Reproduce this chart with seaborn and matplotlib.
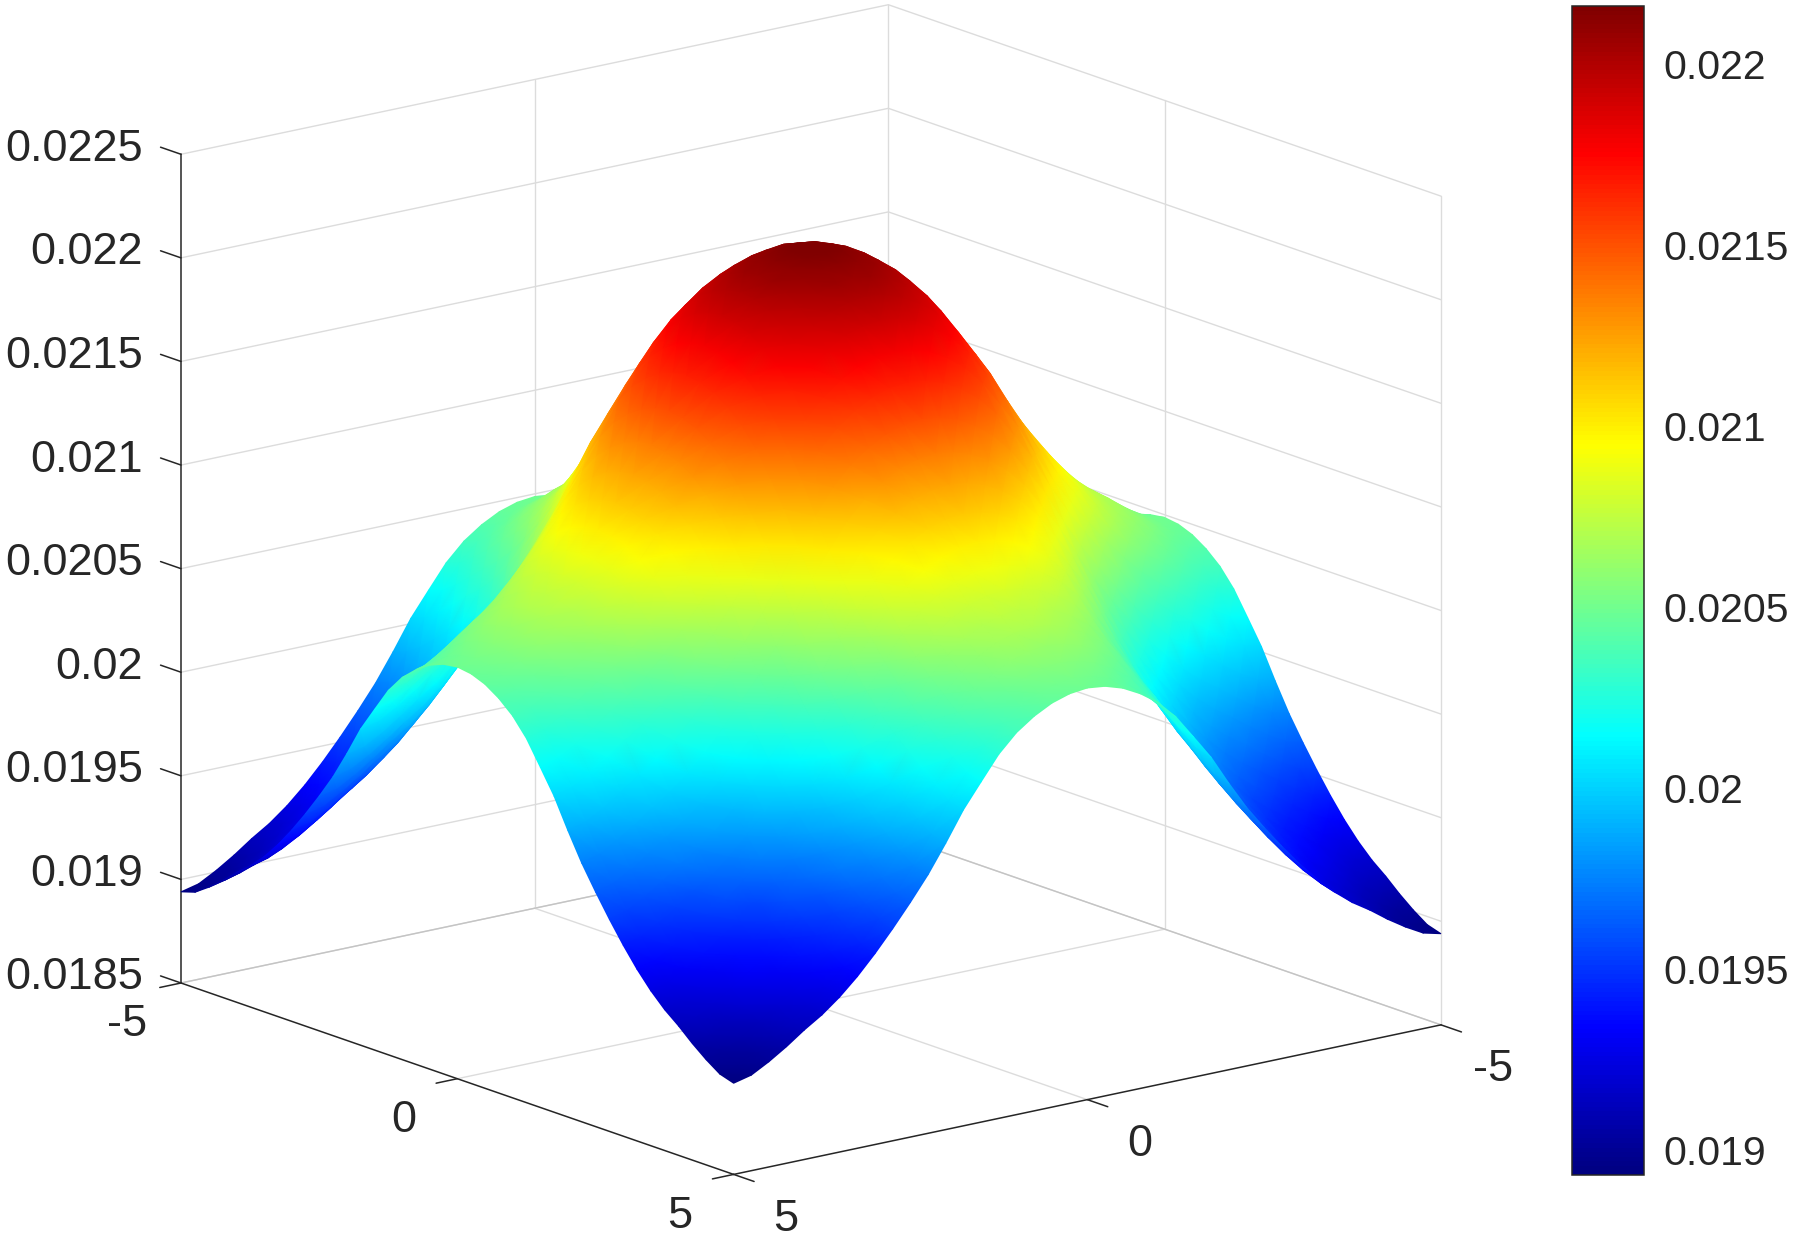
import numpy as np
import seaborn as sns
import matplotlib.pyplot as plt
from matplotlib.colors import LinearSegmentedColormap
from mpl_toolkits.mplot3d import proj3d

W, H = 1796, 1241

# grid positions of one quarter of the square, x and y = 0, 0.25 ... 5
quarter_axis = [0, .25, .5, .75, 1, 1.25, 1.5, 1.75, 2, 2.25, 2.5, 2.75, 3, 3.25, 3.5, 3.75, 4, 4.25, 4.5, 4.75, 5]

# surface heights, in millionths. the surface is mirror symmetric:
# row i holds the columns j >= i, the rest are flipped copies
upper_z = [
    [22160, 22149, 22120, 22071, 22005, 21912, 21788, 21661, 21506, 21362, 21236, 21118, 21008, 20908, 20819, 20746, 20686, 20620, 20560, 20509, 20487],
    [22138, 22109, 22060, 21994, 21901, 21777, 21650, 21495, 21351, 21225, 21107, 20997, 20898, 20809, 20736, 20676, 20610, 20550, 20499, 20477],
    [22080, 22031, 21965, 21873, 21749, 21622, 21467, 21324, 21198, 21080, 20970, 20870, 20782, 20709, 20649, 20583, 20523, 20472, 20450],
    [21983, 21917, 21824, 21701, 21574, 21420, 21277, 21151, 21034, 20924, 20824, 20736, 20663, 20603, 20538, 20478, 20427, 20405],
    [21851, 21759, 21635, 21509, 21355, 21212, 21087, 20970, 20861, 20762, 20673, 20601, 20541, 20476, 20416, 20365, 20344],
    [21667, 21544, 21418, 21265, 21123, 20998, 20881, 20773, 20674, 20586, 20514, 20454, 20389, 20330, 20279, 20258],
    [21422, 21297, 21145, 21003, 20879, 20763, 20655, 20557, 20469, 20397, 20338, 20274, 20215, 20164, 20143],
    [21174, 21022, 20881, 20758, 20643, 20535, 20438, 20351, 20279, 20221, 20156, 20097, 20048, 20026],
    [20872, 20732, 20610, 20495, 20388, 20291, 20205, 20134, 20076, 20012, 19953, 19904, 19883],
    [20593, 20471, 20358, 20252, 20155, 20070, 19999, 19941, 19878, 19820, 19771, 19749],
    [20350, 20237, 20132, 20036, 19951, 19881, 19823, 19760, 19703, 19654, 19633],
    [20125, 20021, 19925, 19841, 19771, 19714, 19651, 19594, 19545, 19524],
    [19916, 19821, 19736, 19667, 19610, 19548, 19491, 19443, 19422],
    [19727, 19643, 19574, 19517, 19455, 19398, 19350, 19329],
    [19559, 19491, 19434, 19372, 19316, 19268, 19248],
    [19422, 19366, 19304, 19248, 19201, 19180],
    [19310, 19249, 19193, 19145, 19125],
    [19187, 19131, 19084, 19063],
    [19076, 19028, 19008],
    [18981, 18961],
    [18940],
]

xy_ticks = [-5, 0, 5]
z_ticks = [0.0185, 0.019, 0.0195, 0.02, 0.0205, 0.021, 0.0215, 0.022, 0.0225]
z_tick_labels = ["0.0185", "0.019", "0.0195", "0.02", "0.0205", "0.021", "0.0215", "0.022", "0.0225"]
cbar_ticks = [0.019, 0.0195, 0.02, 0.0205, 0.021, 0.0215, 0.022]
cbar_tick_labels = ["0.019", "0.0195", "0.02", "0.0205", "0.021", "0.0215", "0.022"]
z_min_color, z_max_color = 0.01893, 0.02216

sns.set_theme(style="white")
plt.rcParams["font.family"] = ["Liberation Sans", "DejaVu Sans"]

INK = "#262626"
GRID = "#dcdcdc"
AXIS_FONT = 32.5
CBAR_FONT = 29.5

# same knots as MATLAB's jet
jet = LinearSegmentedColormap.from_list("matlab_jet", [
    (0, (0, 0, 0.5)), (1 / 8, (0, 0, 1)), (3 / 8, (0, 1, 1)),
    (5 / 8, (1, 1, 0)), (7 / 8, (1, 0, 0)), (1, (0.5, 0, 0))], N=256)

fig = plt.figure(figsize=(W / 100, H / 100), dpi=100)

# 3d axes only for the box and the projection
S = 1500
ax = fig.add_axes([61 / W, -98 / H, S / W, S / H], projection="3d", proj_type="ortho")
ax.set_xlim(-5, 5, view_margin=0)
ax.set_ylim(-5, 5, view_margin=0)
ax.set_zlim(0.0185, 0.0225, view_margin=0)
ax.view_init(elev=15.7, azim=52)
ax.set_axis_off()
box = (1, 1, 0.959)


def to_pixels(x, y, z):
    xs, ys, zs = proj3d.proj_transform(np.asarray(x, float), np.asarray(y, float), np.asarray(z, float), ax.get_proj())
    return ax.transData.transform(np.column_stack([xs, ys])), zs


# fit the box on the reference corners
ax.set_box_aspect(box)
fig.canvas.draw()
corners, _ = to_pixels([5, -5], [-5, 5], [0.0185, 0.0185])
ax.set_box_aspect(box, zoom=1260 / (corners[1, 0] - corners[0, 0]))
fig.canvas.draw()
corners, _ = to_pixels([5], [-5], [0.0185])
pos = ax.get_position()
ax.set_position([pos.x0 + (181 - corners[0, 0]) / W, pos.y0 + (H - 983 - corners[0, 1]) / H, pos.width, pos.height])
fig.canvas.draw()

# back walls and floor
zlo, zhi = z_ticks[0], z_ticks[-1]
for z in z_ticks:
    ax.plot([5, -5, -5], [-5, -5, 5], [z, z, z], color=GRID, lw=1.0)
ax.plot([0, 0], [-5, -5], [zlo, zhi], color=GRID, lw=1.0)
ax.plot([-5, -5], [0, 0], [zlo, zhi], color=GRID, lw=1.0)
ax.plot([-5, -5], [-5, -5], [zlo, zhi], color=GRID, lw=1.0)
ax.plot([-5, -5], [5, 5], [zlo, zhi], color=GRID, lw=1.0)
ax.plot([0, 0], [-5, 5], [zlo, zlo], color=GRID, lw=1.0)
ax.plot([-5, 5], [0, 0], [zlo, zlo], color=GRID, lw=1.0)
ax.plot([5, -5, -5], [-5, -5, 5], [zlo, zlo, zlo], color="#c4c4c4", lw=1.0)

# dark edges and ticks
ax.plot([5, 5], [-5, 5], [zlo, zlo], color=INK, lw=1.1)
ax.plot([-5, 5], [5, 5], [zlo, zlo], color=INK, lw=1.1)
ax.plot([5, 5], [-5, -5], [zlo, zhi], color=INK, lw=1.1)
for t in xy_ticks:
    ax.plot([5, 5.3], [t, t], [zlo, zlo], color=INK, lw=1.1)
    ax.plot([t, t], [5, 5.37], [zlo, zlo], color=INK, lw=1.1)
for z in z_ticks:
    ax.plot([5, 5], [-5, -5.37], [z, z], color=INK, lw=1.1)

# fill the quarter from the triangle, then mirror it into the full grid
m = len(quarter_axis)
half = np.zeros((m, m))
for i, row in enumerate(upper_z):
    half[i, i:] = row
    half[i:, i] = row
half = half * 1e-6
top = np.vstack([half[:0:-1], half])
Z = np.hstack([top[:, :0:-1], top])
axis = np.array(quarter_axis)
axis = np.concatenate([-axis[:0:-1], axis])
X, Y = np.meshgrid(axis, axis, indexing="ij")

points, depth = to_pixels(X.ravel(), Y.ravel(), Z.ravel())
n = len(axis)
triangles = []
for i in range(n - 1):
    for j in range(n - 1):
        a, b, c, d = i * n + j, i * n + j + 1, (i + 1) * n + j, (i + 1) * n + j + 1
        # split each cell across the slope so the colour bands stay clean
        if (axis[i] + axis[i + 1]) * (axis[j] + axis[j + 1]) > 0:
            triangles += [[a, b, c], [b, d, c]]
        else:
            triangles += [[a, b, d], [a, d, c]]
triangles = np.array(triangles)
triangles = triangles[np.argsort(-depth[triangles].mean(axis=1))]

# surface and labels go on a flat layer in pixels, colours through a normal colormap
layer = fig.add_axes([0, 0, 1, 1])
layer.set_axis_off()
mesh = layer.tripcolor(points[:, 0], points[:, 1], triangles, Z.ravel(), shading="gouraud",
                       cmap=jet, vmin=z_min_color, vmax=z_max_color)
layer.set_xlim(0, W)
layer.set_ylim(0, H)

tick_kw = dict(textcoords="offset pixels", fontsize=AXIS_FONT, color=INK, va="center")
for t, p in zip(xy_ticks, to_pixels([5] * 3, xy_ticks, [zlo] * 3)[0]):
    layer.annotate(str(t), xy=p, xytext=(-54, -42), ha="center", **tick_kw)
for t, p in zip(xy_ticks, to_pixels(xy_ticks, [5] * 3, [zlo] * 3)[0]):
    layer.annotate(str(t), xy=p, xytext=(52, -45), ha="center", **tick_kw)
for label, p in zip(z_tick_labels, to_pixels([5] * 9, [-5] * 9, z_ticks)[0]):
    layer.annotate(label, xy=p, xytext=(-38, 5), ha="right", **tick_kw)

# colorbar
cax = fig.add_axes([1571.5 / W, (H - 1175) / H, 72.5 / W, 1169 / H])
cbar = fig.colorbar(mesh, cax=cax, ticks=cbar_ticks)
cbar.ax.set_yticklabels(cbar_tick_labels)
cbar.ax.tick_params(direction="in", length=8, width=1.1, color=INK, labelsize=CBAR_FONT, labelcolor=INK, pad=14, right=True, left=False)
cbar.outline.set_edgecolor(INK)
cbar.outline.set_linewidth(1.1)

fig.savefig("out.png", dpi=100, facecolor="white")
